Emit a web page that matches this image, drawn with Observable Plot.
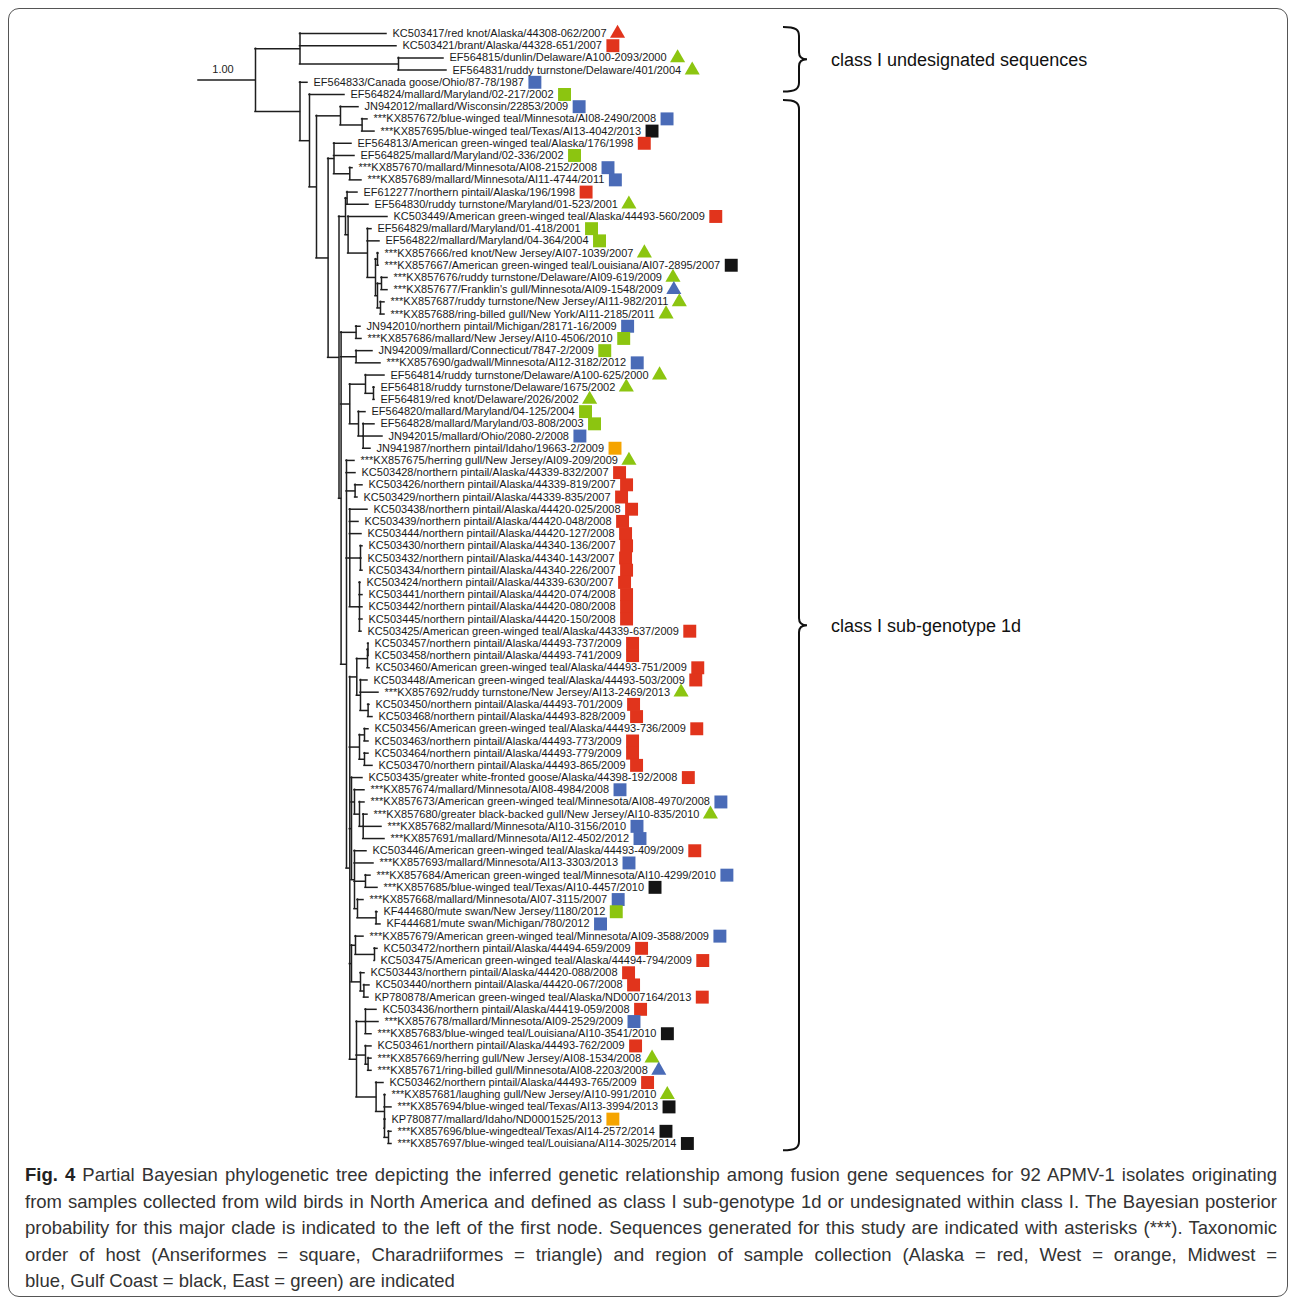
<!DOCTYPE html>
<html><head><meta charset="utf-8">
<script src="https://cdn.jsdelivr.net/npm/d3@7"></script>
<script src="https://cdn.jsdelivr.net/npm/@observablehq/plot@0.6"></script>
<style>
body{margin:0;background:#fff;}
#fig{position:relative;width:1292px;height:1301px;overflow:hidden;font-family:"Liberation Sans",Arial,sans-serif;}
#frame{position:absolute;left:8px;top:8px;width:1280px;height:1289px;border:1.3px solid #555;border-radius:11px;box-sizing:border-box;}
#chart{position:absolute;left:0;top:0;}
#caption{position:absolute;left:25px;top:1162px;width:1252px;font-size:18.5px;line-height:26.5px;color:#333;}
#caption div{text-align:justify;text-align-last:justify;}
#caption div.last{text-align-last:left;}
#caption b{color:#222;}
</style></head>
<body><div id="fig"><div id="frame"></div><div id="chart"></div>
<div id="caption">
<div><b>Fig. 4</b> Partial Bayesian phylogenetic tree depicting the inferred genetic relationship among fusion gene sequences for 92 APMV-1 isolates originating</div>
<div>from samples collected from wild birds in North America and defined as class I sub-genotype 1d or undesignated within class I. The Bayesian posterior</div>
<div>probability for this major clade is indicated to the left of the first node. Sequences generated for this study are indicated with asterisks (***). Taxonomic</div>
<div>order of host (Anseriformes = square, Charadriiformes = triangle) and region of sample collection (Alaska = red, West = orange, Midwest =</div>
<div class="last">blue, Gulf Coast = black, East = green) are indicated</div>
</div></div>
<script>
// ---------- data ----------
const leafLabels = [
"KC503417/red knot/Alaska/44308-062/2007",
"KC503421/brant/Alaska/44328-651/2007",
"EF564815/dunlin/Delaware/A100-2093/2000",
"EF564831/ruddy turnstone/Delaware/401/2004",
"EF564833/Canada goose/Ohio/87-78/1987",
"EF564824/mallard/Maryland/02-217/2002",
"JN942012/mallard/Wisconsin/22853/2009",
"***KX857672/blue-winged teal/Minnesota/AI08-2490/2008",
"***KX857695/blue-winged teal/Texas/AI13-4042/2013",
"EF564813/American green-winged teal/Alaska/176/1998",
"EF564825/mallard/Maryland/02-336/2002",
"***KX857670/mallard/Minnesota/AI08-2152/2008",
"***KX857689/mallard/Minnesota/AI11-4744/2011",
"EF612277/northern pintail/Alaska/196/1998",
"EF564830/ruddy turnstone/Maryland/01-523/2001",
"KC503449/American green-winged teal/Alaska/44493-560/2009",
"EF564829/mallard/Maryland/01-418/2001",
"EF564822/mallard/Maryland/04-364/2004",
"***KX857666/red knot/New Jersey/AI07-1039/2007",
"***KX857667/American green-winged teal/Louisiana/AI07-2895/2007",
"***KX857676/ruddy turnstone/Delaware/AI09-619/2009",
"***KX857677/Franklin's gull/Minnesota/AI09-1548/2009",
"***KX857687/ruddy turnstone/New Jersey/AI11-982/2011",
"***KX857688/ring-billed gull/New York/AI11-2185/2011",
"JN942010/northern pintail/Michigan/28171-16/2009",
"***KX857686/mallard/New Jersey/AI10-4506/2010",
"JN942009/mallard/Connecticut/7847-2/2009",
"***KX857690/gadwall/Minnesota/AI12-3182/2012",
"EF564814/ruddy turnstone/Delaware/A100-625/2000",
"EF564818/ruddy turnstone/Delaware/1675/2002",
"EF564819/red knot/Delaware/2026/2002",
"EF564820/mallard/Maryland/04-125/2004",
"EF564828/mallard/Maryland/03-808/2003",
"JN942015/mallard/Ohio/2080-2/2008",
"JN941987/northern pintail/Idaho/19663-2/2009",
"***KX857675/herring gull/New Jersey/AI09-209/2009",
"KC503428/northern pintail/Alaska/44339-832/2007",
"KC503426/northern pintail/Alaska/44339-819/2007",
"KC503429/northern pintail/Alaska/44339-835/2007",
"KC503438/northern pintail/Alaska/44420-025/2008",
"KC503439/northern pintail/Alaska/44420-048/2008",
"KC503444/northern pintail/Alaska/44420-127/2008",
"KC503430/northern pintail/Alaska/44340-136/2007",
"KC503432/northern pintail/Alaska/44340-143/2007",
"KC503434/northern pintail/Alaska/44340-226/2007",
"KC503424/northern pintail/Alaska/44339-630/2007",
"KC503441/northern pintail/Alaska/44420-074/2008",
"KC503442/northern pintail/Alaska/44420-080/2008",
"KC503445/northern pintail/Alaska/44420-150/2008",
"KC503425/American green-winged teal/Alaska/44339-637/2009",
"KC503457/northern pintail/Alaska/44493-737/2009",
"KC503458/northern pintail/Alaska/44493-741/2009",
"KC503460/American green-winged teal/Alaska/44493-751/2009",
"KC503448/American green-winged teal/Alaska/44493-503/2009",
"***KX857692/ruddy turnstone/New Jersey/AI13-2469/2013",
"KC503450/northern pintail/Alaska/44493-701/2009",
"KC503468/northern pintail/Alaska/44493-828/2009",
"KC503456/American green-winged teal/Alaska/44493-736/2009",
"KC503463/northern pintail/Alaska/44493-773/2009",
"KC503464/northern pintail/Alaska/44493-779/2009",
"KC503470/northern pintail/Alaska/44493-865/2009",
"KC503435/greater white-fronted goose/Alaska/44398-192/2008",
"***KX857674/mallard/Minnesota/AI08-4984/2008",
"***KX857673/American green-winged teal/Minnesota/AI08-4970/2008",
"***KX857680/greater black-backed gull/New Jersey/AI10-835/2010",
"***KX857682/mallard/Minnesota/AI10-3156/2010",
"***KX857691/mallard/Minnesota/AI12-4502/2012",
"KC503446/American green-winged teal/Alaska/44493-409/2009",
"***KX857693/mallard/Minnesota/AI13-3303/2013",
"***KX857684/American green-winged teal/Minnesota/AI10-4299/2010",
"***KX857685/blue-winged teal/Texas/AI10-4457/2010",
"***KX857668/mallard/Minnesota/AI07-3115/2007",
"KF444680/mute swan/New Jersey/1180/2012",
"KF444681/mute swan/Michigan/780/2012",
"***KX857679/American green-winged teal/Minnesota/AI09-3588/2009",
"KC503472/northern pintail/Alaska/44494-659/2009",
"KC503475/American green-winged teal/Alaska/44494-794/2009",
"KC503443/northern pintail/Alaska/44420-088/2008",
"KC503440/northern pintail/Alaska/44420-067/2008",
"KP780878/American green-winged teal/Alaska/ND0007164/2013",
"KC503436/northern pintail/Alaska/44419-059/2008",
"***KX857678/mallard/Minnesota/AI09-2529/2009",
"***KX857683/blue-winged teal/Louisiana/AI10-3541/2010",
"KC503461/northern pintail/Alaska/44493-762/2009",
"***KX857669/herring gull/New Jersey/AI08-1534/2008",
"***KX857671/ring-billed gull/Minnesota/AI08-2203/2008",
"KC503462/northern pintail/Alaska/44493-765/2009",
"***KX857681/laughing gull/New Jersey/AI10-991/2010",
"***KX857694/blue-winged teal/Texas/AI13-3994/2013",
"KP780877/mallard/Idaho/ND0001525/2013",
"***KX857696/blue-wingedteal/Texas/AI14-2572/2014",
"***KX857697/blue-winged teal/Louisiana/AI14-3025/2014"
];
// region of collection per leaf: A Alaska, W West, M Midwest, G Gulf Coast, E East
const leafRegionCodes = "AAEEMEMMGA"+"EMMAEAEEEG"+"EMEEMEEMEE"+"EEEMWEAAAA"+"AAAAAAAAAA"+"AAAAEAAAAA"+"AAMMEMMAMM"+"GMEMMAAAAA"+"AMGAEMAEGW"+"GG";
// host order per leaf: S Anseriformes (square), T Charadriiformes (triangle)
const leafHostCodes = "TSTTSSSSSS"+"SSSSTSSSTS"+"TTTTSSSSTT"+"TSSSSTSSSS"+"SSSSSSSSSS"+"SSSSTSSSSS"+"SSSSTSSSSS"+"SSSSSSSSSS"+"SSSSTTSTSS"+"SS";
const regionNames = {A:"Alaska", W:"West", M:"Midwest", G:"Gulf Coast", E:"East"};
const hostNames = {S:"Anseriformes", T:"Charadriiformes"};
const regions = ["Alaska","West","Midwest","Gulf Coast","East"];
const regionColors = ["#e1341c","#f5a400","#4a6bb7","#141414","#8cc510"];
// distance of each tip from the root
const leafDepth = [188,198,245,248,109,146,160,169,176,153,
 156,154,163,159,170,189,173,181,180,180,
 189,189,186,186,162,163,174,182,186,176,
 176,167,176,184,172,156,157,164,159,169,
 160,163,164,163,164,162,164,164,164,163,
 170,170,171,169,180,171,174,170,170,170,
 174,164,166,166,169,183,186,168,175,172,
 179,165,179,182,165,179,176,166,171,170,
 178,180,173,173,173,173,185,187,193,187,
 193,193];
// clades: [id, distance from root, children (tip indices or clade ids)]
const clades = [
 ["root",0,["A"]],
 ["A",57,["B","D"]],
 ["B",101.5,[0,1,"C"]],
 ["C",200,[2,3]],
 ["D",101.5,[4,"E"]],
 ["E",111,[5,"F"]],
 ["F",118,["G","I"]],
 ["G",142,[6,"H"]],
 ["H",163.6,[7,8]],
 ["I",129.6,["J","N"]],
 ["J",135.5,[9,10,"K"]],
 ["K",151.3,[11,12]],
 ["N",140.5,["P","Y"]],
 ["P",147,["Q","R"]],
 ["Q",148.6,[13,14]],
 ["R",149.6,[15,"S"]],
 ["S",169,[16,17,"T"]],
 ["T",177,["U","V"]],
 ["U",179,[18,19]],
 ["V",179,["W","X"]],
 ["W",183,[20,21]],
 ["X",182,[22,23]],
 ["Y",142.6,["Z","AA","AF","BIG"]],
 ["Z",157.6,[24,25]],
 ["AA",157.6,[26,27]],
 ["AF",151.3,["AB","AC"]],
 ["AB",167,[28,"AE"]],
 ["AE",175,[29,30]],
 ["AC",160,[31,"AD"]],
 ["AD",164.7,[32,33,34]],
 ["BIG",148,[35,36,"BD","BE","BL"]],
 ["BD",156.6,[37,38]],
 ["BE",151.3,[39,40,41,"BF","BG"]],
 ["BF",162,[42,43,44]],
 ["BG",161,[45,46,47,48,49]],
 ["BL",151.3,["CE","CF","EA","FA","FX"]],
 ["CE",158.3,["CA","CC"]],
 ["CA",169,["CB",52]],
 ["CB",169.5,[50,51]],
 ["CC",162,[53,54,"CD"]],
 ["CD",169.6,[55,56]],
 ["CF",161,["CG","CH"]],
 ["CG",166,[57,58]],
 ["CH",166,[59,60]],
 ["EA",153,[61,"DA","EB"]],
 ["DA",156,[62,"DB"]],
 ["DB",161,[63,"DC"]],
 ["DC",164.7,[64,65,66]],
 ["EB",156,[67,68,"ED","EE"]],
 ["ED",167,[69,70]],
 ["EE",159,[71,"EF"]],
 ["EF",177.6,[72,73]],
 ["FA",153,["FB","FD"]],
 ["FB",157,[74,"FC"]],
 ["FC",176,[75,76]],
 ["FD",162,[77,"FE"]],
 ["FE",165.4,[78,79]],
 ["FX",158,["FG","FI","GB"]],
 ["FG",167,[80,81,82]],
 ["FI",167,[83,"FJ"]],
 ["FJ",169.6,[84,85]],
 ["GB",177.6,[86,"GC"]],
 ["GC",186,[87,88,"GD"]],
 ["GD",186,[89,"GE"]],
 ["GE",190,[90,91]]
];
const posterior = [{clade:"A", value:"1.00"}];
const groups = [
 {label:"class I undesignated sequences", from:-0.5, to:4.8},
 {label:"class I sub-genotype 1d", from:5.5, to:91.6}
];

// ---------- layout ----------
const byId = new Map(clades.map(d => [d[0], {depth:d[1], kids:d[2]}]));
const hSeg = [], vSeg = [], nodePos = new Map(), parentDepth = new Map();
function place(id){
  if (typeof id === "number") return {x: leafDepth[id], y: id};
  const n = byId.get(id);
  const ps = n.kids.map(k => { parentDepth.set(k, n.depth); return place(k); });
  const y = (ps[0].y + ps[ps.length-1].y) / 2;
  ps.forEach(p => hSeg.push({x1:n.depth, x2:p.x, y:p.y}));
  if (ps.length > 1) vSeg.push({x:n.depth, y1:ps[0].y, y2:ps[ps.length-1].y});
  const pos = {x:n.depth, y};
  nodePos.set(id, pos);
  return pos;
}
place("root");

const ctx = document.createElement("canvas").getContext("2d");
ctx.font = "11px 'Liberation Sans'";
const labelGap = 6, markGap = 11;
const tips = leafLabels.map((label, i) => ({
  label, y: i, x: leafDepth[i],
  mx: leafDepth[i] + labelGap + ctx.measureText(label).width + markGap,
  region: regionNames[leafRegionCodes[i]],
  host: hostNames[leafHostCodes[i]]
}));
const post = posterior.map(p => ({
  value: p.value, y: nodePos.get(p.clade).y,
  x: (parentDepth.get(p.clade) + nodePos.get(p.clade).x) / 2
}));

function braces(index, scales){
  const g = d3.create("svg:g");
  const x0 = 783, xs = 799, xm = 807;
  for (const gr of groups){
    const yt = scales.y(gr.from), yb = scales.y(gr.to), ym = (yt + yb) / 2, r = 9;
    g.append("path")
      .attr("d", `M${x0},${yt} C${xs-3},${yt} ${xs},${yt+3} ${xs},${yt+r} L${xs},${ym-r+2} C${xs},${ym-3} ${xs+2},${ym} ${xm},${ym} C${xs+2},${ym} ${xs},${ym+3} ${xs},${ym+r-2} L${xs},${yb-r} C${xs},${yb-3} ${xs-3},${yb} ${x0},${yb}`)
      .attr("fill","none").attr("stroke","#111").attr("stroke-width",2);
    g.append("text").attr("x", 831).attr("y", ym).attr("dy","0.35em")
      .attr("text-anchor","start")
      .attr("font-size", 18).attr("fill","#111").attr("font-family","'Liberation Sans', Arial, sans-serif")
      .text(gr.label);
  }
  return g.node();
}

const font = "'Liberation Sans', Arial, sans-serif";
const chart = Plot.plot({
  width: 1292, height: 1160,
  marginLeft: 0, marginRight: 0, marginTop: 0, marginBottom: 0,
  style: {background: "transparent", fontFamily: font, overflow: "visible"},
  x: {type: "linear", domain: [0, 1000], range: [198, 1198], axis: null},
  y: {type: "linear", domain: [0, 91], range: [33, 1143], axis: null},
  color: {domain: regions, range: regionColors},
  marks: [
    Plot.ruleY(hSeg, {y: "y", x1: "x1", x2: "x2", stroke: "#1e1e1e", strokeWidth: 1.5, strokeLinecap: "square"}),
    Plot.ruleX(vSeg, {x: "x", y1: "y1", y2: "y2", stroke: "#1e1e1e", strokeWidth: 1.5, strokeLinecap: "square"}),
    Plot.text(post, {x: "x", y: "y", text: "value", dy: -11, dx: -4, fontSize: 11, fill: "#222"}),
    Plot.text(tips, {x: "x", y: "y", text: "label", textAnchor: "start", dx: labelGap, fontSize: 11, fill: "#1a1a1a"}),
    Plot.dot(tips.filter(d => d.host === "Anseriformes"), {x: "mx", y: "y", fill: "region", symbol: "square", r: 7.3}),
    Plot.dot(tips.filter(d => d.host === "Charadriiformes"), {x: "mx", y: "y", fill: "region", symbol: "triangle", r: 5.6}),
    braces
  ]
});
document.getElementById("chart").appendChild(chart);
</script>
</body></html>
